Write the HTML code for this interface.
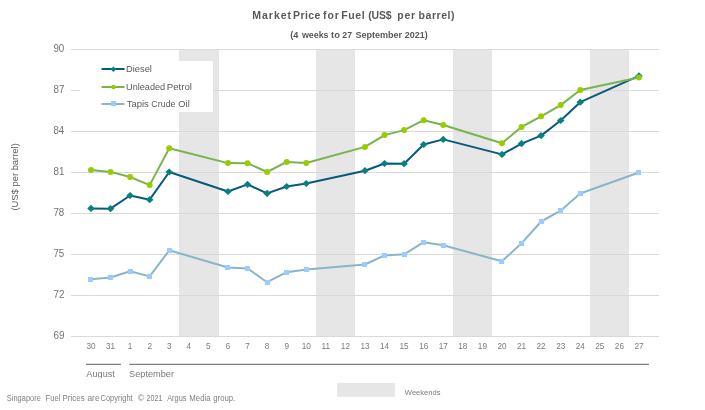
<!DOCTYPE html><html><head><meta charset="utf-8"><style>html,body{margin:0;padding:0;background:#fff;width:705px;height:410px;overflow:hidden}svg{display:block;will-change:transform}text{font-family:"Liberation Sans",sans-serif}</style></head><body>
<svg width="705" height="410" viewBox="0 0 705 410">
<rect width="705" height="410" fill="#fff"/>
<rect x="179" y="49" width="40" height="287.5" fill="#e6e6e6"/>
<rect x="316" y="49" width="39" height="287.5" fill="#e6e6e6"/>
<rect x="453" y="49" width="39" height="287.5" fill="#e6e6e6"/>
<rect x="590" y="49" width="39" height="287.5" fill="#e6e6e6"/>
<line x1="71" y1="49.5" x2="659" y2="49.5" stroke="#d9d9d9" stroke-width="1"/>
<line x1="71" y1="90.5" x2="659" y2="90.5" stroke="#d9d9d9" stroke-width="1"/>
<line x1="71" y1="131.5" x2="659" y2="131.5" stroke="#d9d9d9" stroke-width="1"/>
<line x1="71" y1="172.5" x2="659" y2="172.5" stroke="#d9d9d9" stroke-width="1"/>
<line x1="71" y1="213.5" x2="659" y2="213.5" stroke="#d9d9d9" stroke-width="1"/>
<line x1="71" y1="254.5" x2="659" y2="254.5" stroke="#d9d9d9" stroke-width="1"/>
<line x1="71" y1="295.5" x2="659" y2="295.5" stroke="#d9d9d9" stroke-width="1"/>
<line x1="71" y1="336.5" x2="659" y2="336.5" stroke="#d9d9d9" stroke-width="1"/>
<text x="53.44" y="52.1" font-size="10.0" fill="#737373" textLength="10.85" lengthAdjust="spacingAndGlyphs">90</text>
<text x="53.48" y="93.1" font-size="10.0" fill="#737373" textLength="10.93" lengthAdjust="spacingAndGlyphs">87</text>
<text x="53.49" y="134.1" font-size="10.0" fill="#737373" textLength="10.70" lengthAdjust="spacingAndGlyphs">84</text>
<text x="53.48" y="175.1" font-size="10.0" fill="#737373" textLength="10.91" lengthAdjust="spacingAndGlyphs">81</text>
<text x="53.41" y="216.1" font-size="10.0" fill="#737373" textLength="10.93" lengthAdjust="spacingAndGlyphs">78</text>
<text x="53.41" y="257.1" font-size="10.0" fill="#737373" textLength="10.91" lengthAdjust="spacingAndGlyphs">75</text>
<text x="53.40" y="298.1" font-size="10.0" fill="#737373" textLength="11.01" lengthAdjust="spacingAndGlyphs">72</text>
<text x="53.41" y="339.1" font-size="10.0" fill="#737373" textLength="10.96" lengthAdjust="spacingAndGlyphs">69</text>
<text x="90.97" y="349" font-size="8.2" fill="#7a7a7a" text-anchor="middle">30</text>
<text x="110.54" y="349" font-size="8.2" fill="#7a7a7a" text-anchor="middle">31</text>
<text x="130.11" y="349" font-size="8.2" fill="#7a7a7a" text-anchor="middle">1</text>
<text x="149.68" y="349" font-size="8.2" fill="#7a7a7a" text-anchor="middle">2</text>
<text x="169.25" y="349" font-size="8.2" fill="#7a7a7a" text-anchor="middle">3</text>
<text x="188.83" y="349" font-size="8.2" fill="#7a7a7a" text-anchor="middle">4</text>
<text x="208.40" y="349" font-size="8.2" fill="#7a7a7a" text-anchor="middle">5</text>
<text x="227.97" y="349" font-size="8.2" fill="#7a7a7a" text-anchor="middle">6</text>
<text x="247.54" y="349" font-size="8.2" fill="#7a7a7a" text-anchor="middle">7</text>
<text x="267.11" y="349" font-size="8.2" fill="#7a7a7a" text-anchor="middle">8</text>
<text x="286.68" y="349" font-size="8.2" fill="#7a7a7a" text-anchor="middle">9</text>
<text x="306.25" y="349" font-size="8.2" fill="#7a7a7a" text-anchor="middle">10</text>
<text x="325.82" y="349" font-size="8.2" fill="#7a7a7a" text-anchor="middle">11</text>
<text x="345.39" y="349" font-size="8.2" fill="#7a7a7a" text-anchor="middle">12</text>
<text x="364.97" y="349" font-size="8.2" fill="#7a7a7a" text-anchor="middle">13</text>
<text x="384.54" y="349" font-size="8.2" fill="#7a7a7a" text-anchor="middle">14</text>
<text x="404.11" y="349" font-size="8.2" fill="#7a7a7a" text-anchor="middle">15</text>
<text x="423.68" y="349" font-size="8.2" fill="#7a7a7a" text-anchor="middle">16</text>
<text x="443.25" y="349" font-size="8.2" fill="#7a7a7a" text-anchor="middle">17</text>
<text x="462.82" y="349" font-size="8.2" fill="#7a7a7a" text-anchor="middle">18</text>
<text x="482.39" y="349" font-size="8.2" fill="#7a7a7a" text-anchor="middle">19</text>
<text x="501.96" y="349" font-size="8.2" fill="#7a7a7a" text-anchor="middle">20</text>
<text x="521.53" y="349" font-size="8.2" fill="#7a7a7a" text-anchor="middle">21</text>
<text x="541.10" y="349" font-size="8.2" fill="#7a7a7a" text-anchor="middle">22</text>
<text x="560.68" y="349" font-size="8.2" fill="#7a7a7a" text-anchor="middle">23</text>
<text x="580.25" y="349" font-size="8.2" fill="#7a7a7a" text-anchor="middle">24</text>
<text x="599.82" y="349" font-size="8.2" fill="#7a7a7a" text-anchor="middle">25</text>
<text x="619.39" y="349" font-size="8.2" fill="#7a7a7a" text-anchor="middle">26</text>
<text x="638.96" y="349" font-size="8.2" fill="#7a7a7a" text-anchor="middle">27</text>
<line x1="86" y1="364.4" x2="121" y2="364.4" stroke="#808080" stroke-width="1.3"/>
<line x1="129.2" y1="364.4" x2="649" y2="364.4" stroke="#808080" stroke-width="1.3"/>
<clipPath id="mc"><rect x="0" y="360" width="705" height="18.2"/></clipPath>
<g clip-path="url(#mc)"><text x="86.38" y="377" font-size="9" fill="#7a7a7a" textLength="28.50" lengthAdjust="spacingAndGlyphs">August</text>
<text x="128.99" y="377" font-size="9" fill="#7a7a7a" textLength="45.07" lengthAdjust="spacingAndGlyphs">September</text></g>
<polyline points="90.97,208.40 110.54,208.70 130.11,195.50 149.68,199.70 169.25,172.00 227.97,191.50 247.54,184.40 267.11,193.40 286.68,186.50 306.25,183.50 364.97,170.70 384.54,163.50 404.11,163.70 423.68,144.50 443.25,139.40 501.96,154.40 521.53,143.60 541.10,135.60 560.68,120.50 580.25,102.20 638.96,75.90" fill="none" stroke="#075a7b" stroke-width="2.0" stroke-linejoin="round"/>
<path d="M90.97,204.80L94.75,208.40L90.97,212.00L87.19,208.40Z" fill="#078080"/>
<path d="M110.54,205.10L114.32,208.70L110.54,212.30L106.76,208.70Z" fill="#078080"/>
<path d="M130.11,191.90L133.89,195.50L130.11,199.10L126.33,195.50Z" fill="#078080"/>
<path d="M149.68,196.10L153.46,199.70L149.68,203.30L145.90,199.70Z" fill="#078080"/>
<path d="M169.25,168.40L173.03,172.00L169.25,175.60L165.47,172.00Z" fill="#078080"/>
<path d="M227.97,187.90L231.75,191.50L227.97,195.10L224.19,191.50Z" fill="#078080"/>
<path d="M247.54,180.80L251.32,184.40L247.54,188.00L243.76,184.40Z" fill="#078080"/>
<path d="M267.11,189.80L270.89,193.40L267.11,197.00L263.33,193.40Z" fill="#078080"/>
<path d="M286.68,182.90L290.46,186.50L286.68,190.10L282.90,186.50Z" fill="#078080"/>
<path d="M306.25,179.90L310.03,183.50L306.25,187.10L302.47,183.50Z" fill="#078080"/>
<path d="M364.97,167.10L368.75,170.70L364.97,174.30L361.19,170.70Z" fill="#078080"/>
<path d="M384.54,159.90L388.32,163.50L384.54,167.10L380.76,163.50Z" fill="#078080"/>
<path d="M404.11,160.10L407.89,163.70L404.11,167.30L400.33,163.70Z" fill="#078080"/>
<path d="M423.68,140.90L427.46,144.50L423.68,148.10L419.90,144.50Z" fill="#078080"/>
<path d="M443.25,135.80L447.03,139.40L443.25,143.00L439.47,139.40Z" fill="#078080"/>
<path d="M501.96,150.80L505.74,154.40L501.96,158.00L498.18,154.40Z" fill="#078080"/>
<path d="M521.53,140.00L525.31,143.60L521.53,147.20L517.75,143.60Z" fill="#078080"/>
<path d="M541.10,132.00L544.88,135.60L541.10,139.20L537.32,135.60Z" fill="#078080"/>
<path d="M560.68,116.90L564.46,120.50L560.68,124.10L556.90,120.50Z" fill="#078080"/>
<path d="M580.25,98.60L584.03,102.20L580.25,105.80L576.47,102.20Z" fill="#078080"/>
<path d="M638.96,72.30L642.74,75.90L638.96,79.50L635.18,75.90Z" fill="#078080"/>
<polyline points="90.97,170.00 110.54,171.90 130.11,177.00 149.68,185.10 169.25,148.20 227.97,163.10 247.54,163.20 267.11,172.00 286.68,161.90 306.25,163.00 364.97,146.90 384.54,135.10 404.11,130.10 423.68,120.20 443.25,125.00 501.96,143.20 521.53,127.00 541.10,116.30 560.68,105.10 580.25,90.00 638.96,77.40" fill="none" stroke="#78b44e" stroke-width="2.0" stroke-linejoin="round"/>
<circle cx="90.97" cy="170.00" r="3" fill="#99cc00"/>
<circle cx="110.54" cy="171.90" r="3" fill="#99cc00"/>
<circle cx="130.11" cy="177.00" r="3" fill="#99cc00"/>
<circle cx="149.68" cy="185.10" r="3" fill="#99cc00"/>
<circle cx="169.25" cy="148.20" r="3" fill="#99cc00"/>
<circle cx="227.97" cy="163.10" r="3" fill="#99cc00"/>
<circle cx="247.54" cy="163.20" r="3" fill="#99cc00"/>
<circle cx="267.11" cy="172.00" r="3" fill="#99cc00"/>
<circle cx="286.68" cy="161.90" r="3" fill="#99cc00"/>
<circle cx="306.25" cy="163.00" r="3" fill="#99cc00"/>
<circle cx="364.97" cy="146.90" r="3" fill="#99cc00"/>
<circle cx="384.54" cy="135.10" r="3" fill="#99cc00"/>
<circle cx="404.11" cy="130.10" r="3" fill="#99cc00"/>
<circle cx="423.68" cy="120.20" r="3" fill="#99cc00"/>
<circle cx="443.25" cy="125.00" r="3" fill="#99cc00"/>
<circle cx="501.96" cy="143.20" r="3" fill="#99cc00"/>
<circle cx="521.53" cy="127.00" r="3" fill="#99cc00"/>
<circle cx="541.10" cy="116.30" r="3" fill="#99cc00"/>
<circle cx="560.68" cy="105.10" r="3" fill="#99cc00"/>
<circle cx="580.25" cy="90.00" r="3" fill="#99cc00"/>
<circle cx="638.96" cy="77.40" r="3" fill="#99cc00"/>
<polyline points="90.97,279.20 110.54,277.50 130.11,271.30 149.68,276.40 169.25,250.30 227.97,267.50 247.54,268.40 267.11,282.20 286.68,272.20 306.25,269.40 364.97,264.50 384.54,255.40 404.11,254.30 423.68,242.20 443.25,245.30 501.96,261.30 521.53,243.30 541.10,221.50 560.68,210.70 580.25,193.50 638.96,172.50" fill="none" stroke="#89b6c6" stroke-width="2.0" stroke-linejoin="round"/>
<rect x="88" y="277" width="5" height="5" fill="#99ccff"/>
<rect x="108" y="275" width="5" height="5" fill="#99ccff"/>
<rect x="128" y="269" width="5" height="5" fill="#99ccff"/>
<rect x="147" y="274" width="5" height="5" fill="#99ccff"/>
<rect x="167" y="248" width="5" height="5" fill="#99ccff"/>
<rect x="225" y="265" width="5" height="5" fill="#99ccff"/>
<rect x="245" y="266" width="5" height="5" fill="#99ccff"/>
<rect x="265" y="280" width="5" height="5" fill="#99ccff"/>
<rect x="284" y="270" width="5" height="5" fill="#99ccff"/>
<rect x="304" y="267" width="5" height="5" fill="#99ccff"/>
<rect x="362" y="262" width="5" height="5" fill="#99ccff"/>
<rect x="382" y="253" width="5" height="5" fill="#99ccff"/>
<rect x="402" y="252" width="5" height="5" fill="#99ccff"/>
<rect x="421" y="240" width="5" height="5" fill="#99ccff"/>
<rect x="441" y="243" width="5" height="5" fill="#99ccff"/>
<rect x="499" y="259" width="5" height="5" fill="#99ccff"/>
<rect x="519" y="241" width="5" height="5" fill="#99ccff"/>
<rect x="539" y="219" width="5" height="5" fill="#99ccff"/>
<rect x="558" y="208" width="5" height="5" fill="#99ccff"/>
<rect x="578" y="191" width="5" height="5" fill="#99ccff"/>
<rect x="636" y="170" width="5" height="5" fill="#99ccff"/>
<rect x="80" y="61" width="133" height="51" fill="#fff"/>
<line x1="102.3" y1="69" x2="123.8" y2="69" stroke="#075a7b" stroke-width="2.0" stroke-linecap="round"/>
<path d="M113.40,66.40L116.34,69.20L113.40,72.00L110.46,69.20Z" fill="#078080"/>
<line x1="102.3" y1="87" x2="123.8" y2="87" stroke="#78b44e" stroke-width="2.0" stroke-linecap="round"/>
<circle cx="113.40" cy="87.00" r="2.3" fill="#99cc00"/>
<line x1="102.3" y1="104" x2="123.8" y2="104" stroke="#89b6c6" stroke-width="2.0" stroke-linecap="round"/>
<rect x="111" y="101" width="5" height="5" fill="#99ccff"/>
<text x="126.03" y="72.2" font-size="9" fill="#595959" textLength="25.89" lengthAdjust="spacingAndGlyphs">Diesel</text>
<text x="126.09" y="89.6" font-size="9" fill="#595959" textLength="39.09" lengthAdjust="spacingAndGlyphs">Unleaded</text>
<text x="166.70" y="89.6" font-size="9" fill="#595959" textLength="25.25" lengthAdjust="spacingAndGlyphs">Petrol</text>
<text x="126.69" y="106.7" font-size="9" fill="#595959" textLength="22.14" lengthAdjust="spacingAndGlyphs">Tapis</text>
<text x="151.36" y="106.7" font-size="9" fill="#595959" textLength="24.13" lengthAdjust="spacingAndGlyphs">Crude</text>
<text x="178.36" y="106.7" font-size="9" fill="#595959" textLength="11.37" lengthAdjust="spacingAndGlyphs">Oil</text>
<text x="252.29" y="18.5" font-size="10.5" font-weight="bold" fill="#595959" textLength="38.75" lengthAdjust="spacing">Market</text>
<text x="293.09" y="18.5" font-size="10.5" font-weight="bold" fill="#595959" textLength="27.36" lengthAdjust="spacing">Price</text>
<text x="323.12" y="18.5" font-size="10.5" font-weight="bold" fill="#595959" textLength="15.62" lengthAdjust="spacing">for</text>
<text x="341.29" y="18.5" font-size="10.5" font-weight="bold" fill="#595959" textLength="23.45" lengthAdjust="spacing">Fuel</text>
<text x="368.28" y="18.5" font-size="10.5" font-weight="bold" fill="#595959" textLength="23.37" lengthAdjust="spacing">(US$</text>
<text x="397.32" y="18.5" font-size="10.5" font-weight="bold" fill="#595959" textLength="17.83" lengthAdjust="spacing">per</text>
<text x="418.62" y="18.5" font-size="10.5" font-weight="bold" fill="#595959" textLength="35.81" lengthAdjust="spacing">barrel)</text>
<text x="290.34" y="37.7" font-size="8.2" font-weight="bold" fill="#595959" textLength="8.12" lengthAdjust="spacingAndGlyphs">(4</text>
<text x="301.92" y="37.7" font-size="8.2" font-weight="bold" fill="#595959" textLength="26.63" lengthAdjust="spacingAndGlyphs">weeks</text>
<text x="331.08" y="37.7" font-size="8.2" font-weight="bold" fill="#595959" textLength="8.88" lengthAdjust="spacingAndGlyphs">to</text>
<text x="342.29" y="37.7" font-size="8.2" font-weight="bold" fill="#595959" textLength="9.70" lengthAdjust="spacingAndGlyphs">27</text>
<text x="355.43" y="37.7" font-size="8.2" font-weight="bold" fill="#595959" textLength="46.69" lengthAdjust="spacingAndGlyphs">September</text>
<text x="404.69" y="37.7" font-size="8.2" font-weight="bold" fill="#595959" textLength="22.96" lengthAdjust="spacingAndGlyphs">2021)</text>
<text transform="translate(17.8,176.9) rotate(-90)" x="0" y="0" font-size="9" fill="#595959" text-anchor="middle" textLength="67.4" lengthAdjust="spacingAndGlyphs">(US$ per barrel)</text>
<rect x="337.1" y="383" width="57.8" height="13.8" fill="#e6e6e6"/>
<text x="404.86" y="394.9" font-size="8" fill="#7a7a7a" textLength="35.70" lengthAdjust="spacingAndGlyphs">Weekends</text>
<text x="6.86" y="400.5" font-size="8.3" fill="#808080" textLength="33.96" lengthAdjust="spacingAndGlyphs">Singapore</text>
<text x="45.57" y="400.5" font-size="8.3" fill="#808080" textLength="14.74" lengthAdjust="spacingAndGlyphs">Fuel</text>
<text x="62.54" y="400.5" font-size="8.3" fill="#808080" textLength="22.14" lengthAdjust="spacingAndGlyphs">Prices</text>
<text x="87.44" y="400.5" font-size="8.3" fill="#808080" textLength="12.12" lengthAdjust="spacingAndGlyphs">are</text>
<text x="100.52" y="400.5" font-size="8.3" fill="#808080" textLength="32.13" lengthAdjust="spacingAndGlyphs">Copyright</text>
<text x="137.77" y="400.5" font-size="8.3" fill="#808080" textLength="6.56" lengthAdjust="spacingAndGlyphs">©</text>
<text x="146.44" y="400.5" font-size="8.3" fill="#808080" textLength="16.02" lengthAdjust="spacingAndGlyphs">2021</text>
<text x="167.18" y="400.5" font-size="8.3" fill="#808080" textLength="19.28" lengthAdjust="spacingAndGlyphs">Argus</text>
<text x="189.36" y="400.5" font-size="8.3" fill="#808080" textLength="21.23" lengthAdjust="spacingAndGlyphs">Media</text>
<text x="213.27" y="400.5" font-size="8.3" fill="#808080" textLength="21.93" lengthAdjust="spacingAndGlyphs">group.</text>
</svg></body></html>
